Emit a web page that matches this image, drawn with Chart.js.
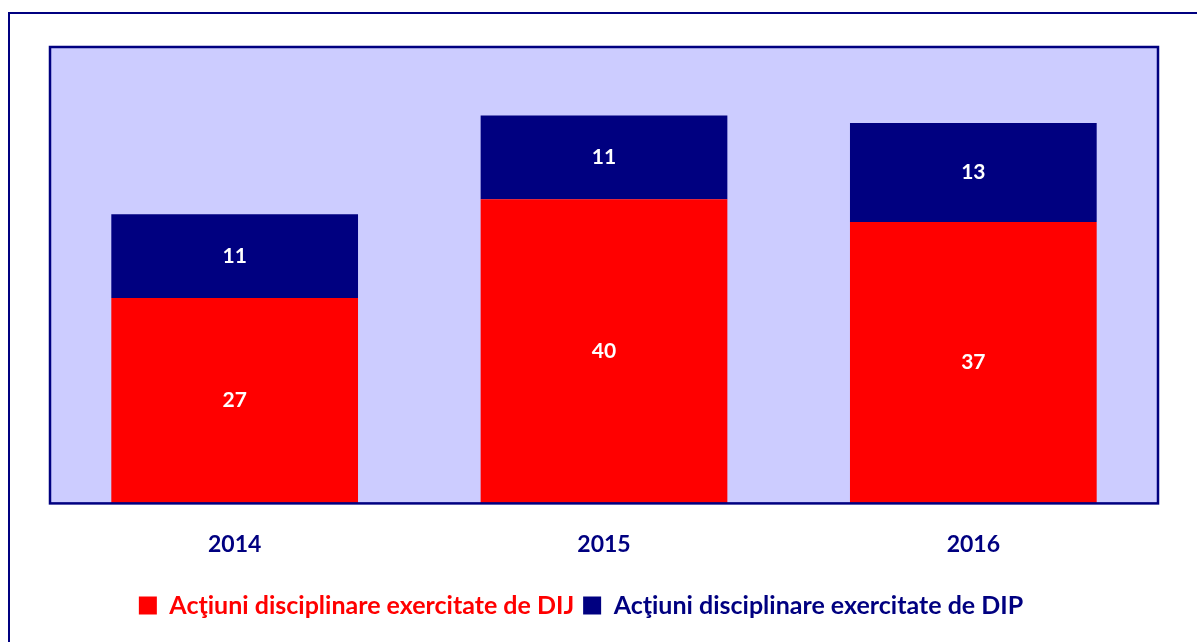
<!DOCTYPE html>
<html>
<head>
<meta charset="utf-8">
<script src="https://cdn.jsdelivr.net/npm/chart.js@4.4.1/dist/chart.umd.min.js"></script>
<style>
  html, body { margin: 0; padding: 0; background: #fff; }
  #wrap { width: 1197px; height: 642px; }
</style>
</head>
<body>
<div id="wrap"><canvas id="grafic"></canvas></div>
<script>
// date
const ani = ['2014', '2015', '2016'];
const actiuniDIJ = [27, 40, 37];
const actiuniDIP = [11, 11, 13];
const numeSerii = ['Acţiuni disciplinare exercitate de DIJ', 'Acţiuni disciplinare exercitate de DIP'];

const ROSU = '#FF0000';
const BLEUMARIN = '#000080';
const FUNDAL_ZONA = '#CCCCFF';
const FONT = 'Lato, "DejaVu Sans", sans-serif';

// fundal zona grafic + chenare
const pluginChenar = {
    id: 'chenar',
    afterLayout(chart) {
        // legenda e putin mai la stanga decat centrul zonei grafice
        if (chart.legend) {
            chart.legend.left -= 23;
            chart.legend.right -= 23;
            chart.legend.top -= 1;
            chart.legend.bottom -= 1;
        }
    },
    beforeDraw(chart) {
        const { ctx, chartArea: a } = chart;
        ctx.save();
        ctx.fillStyle = FUNDAL_ZONA;
        ctx.fillRect(a.left, a.top, a.right - a.left, a.bottom - a.top);
        // chenarul exterior
        ctx.strokeStyle = BLEUMARIN;
        ctx.lineWidth = 2;
        ctx.strokeRect(9, 13, 2000, 2000);
        ctx.restore();
    },
    afterDatasetsDraw(chart) {
        const { ctx, chartArea: a } = chart;
        ctx.save();
        ctx.strokeStyle = BLEUMARIN;
        ctx.lineWidth = 2.5;
        ctx.strokeRect(a.left, a.top, a.right - a.left, a.bottom - a.top);

        // etichete valori in mijlocul fiecarui segment
        ctx.fillStyle = '#FFFFFF';
        ctx.font = 'bold 21px ' + FONT;
        ctx.textAlign = 'center';
        ctx.textBaseline = 'middle';
        chart.data.datasets.forEach((ds, i) => {
            chart.getDatasetMeta(i).data.forEach((bar, j) => {
                const y = (bar.y + bar.base) / 2;
                ctx.fillText(ds.data[j], bar.x, y);
            });
        });
        ctx.restore();
    }
};

const ctx = document.getElementById('grafic').getContext('2d');
new Chart(ctx, {
    type: 'bar',
    data: {
        labels: ani,
        datasets: [
            { label: numeSerii[0], data: actiuniDIJ, backgroundColor: ROSU },
            { label: numeSerii[1], data: actiuniDIP, backgroundColor: BLEUMARIN }
        ]
    },
    options: {
        responsive: true,
        maintainAspectRatio: false,
        animation: false,
        layout: { padding: { left: 50, right: 39, top: 47, bottom: 13 } },
        datasets: {
            bar: { categoryPercentage: 0.668, barPercentage: 1 }
        },
        plugins: {
            tooltip: { enabled: false },
            legend: {
                position: 'bottom',
                labels: {
                    boxWidth: 18,
                    boxHeight: 18,
                    padding: 9,
                    font: { family: FONT, size: 25, weight: 'bold' },
                    generateLabels(chart) {
                        const items = Chart.defaults.plugins.legend.labels.generateLabels(chart);
                        items.forEach(it => {
                            it.fontColor = it.fillStyle;
                            it.lineWidth = 0;
                        });
                        return items;
                    }
                }
            }
        },
        scales: {
            x: {
                stacked: true,
                grid: { display: false, drawTicks: false },
                border: { display: false },
                ticks: {
                    padding: 27,
                    color: BLEUMARIN,
                    font: { family: FONT, size: 23, weight: 'bold' }
                }
            },
            y: {
                stacked: true,
                display: false,
                min: 0,
                max: 60
            }
        }
    },
    plugins: [pluginChenar]
});
</script>
</body>
</html>
